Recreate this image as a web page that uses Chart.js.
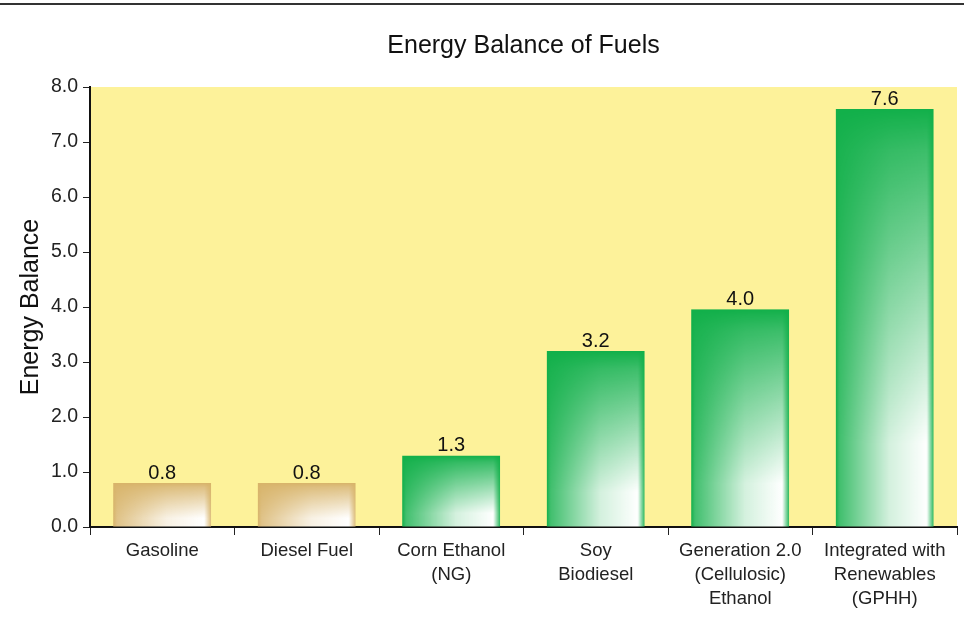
<!DOCTYPE html>
<html>
<head>
<meta charset="utf-8">
<script src="https://cdn.jsdelivr.net/npm/chart.js@4"></script>
<style>
  body { margin: 0; background: #fff; }
  #wrap { position: relative; width: 964px; height: 631px; }
  #topline { position: absolute; left: 0; right: 0; top: 3px; border-top: 2px solid #333; }
</style>
</head>
<body>
<div id="wrap">
  <div id="topline"></div>
  <canvas id="myChart1"></canvas>
</div>
<script>
// chart data
const categories = [
  "Gasoline",
  "Diesel Fuel",
  ["Corn Ethanol", "(NG)"],
  ["Soy", "Biodiesel"],
  ["Generation 2.0", "(Cellulosic)", "Ethanol"],
  ["Integrated with", "Renewables", "(GPHH)"]
];
const energyBalance = [0.8, 0.8, 1.3, 3.2, 3.96, 7.6];
const valueLabels = ["0.8", "0.8", "1.3", "3.2", "4.0", "7.6"];
const barKind = ["fossil", "fossil", "bio", "bio", "bio", "bio"];

const FONT = "'Liberation Sans', Arial, sans-serif";
const baseColors = { fossil: "#D8B46A", bio: "#12B04A" };

// shaded fill: base colour fading to white toward the bottom right
function makeShade(ctx, left, top, w, h, color) {
  w = Math.max(1, Math.round(w)); h = Math.max(1, Math.round(h));
  let c = document.createElement('canvas');
  c.width = w; c.height = h;
  let g = c.getContext('2d');
  g.fillStyle = color;
  g.fillRect(0, 0, w, h);

  let o = document.createElement('canvas');
  o.width = w; o.height = h;
  let og = o.getContext('2d');
  let gx = og.createLinearGradient(0, 0, w, 0);
  gx.addColorStop(0, 'rgba(255,255,255,0)');
  gx.addColorStop(0.04, 'rgba(255,255,255,0.2)');
  gx.addColorStop(0.55, 'rgba(255,255,255,0.82)');
  gx.addColorStop(0.93, 'rgba(255,255,255,1)');
  gx.addColorStop(1, 'rgba(255,255,255,0.1)');
  og.fillStyle = gx;
  og.fillRect(0, 0, w, h);
  og.globalCompositeOperation = 'destination-in';
  let gy = og.createLinearGradient(0, 0, 0, h);
  gy.addColorStop(0, 'rgba(0,0,0,0)');
  gy.addColorStop(0.1, 'rgba(0,0,0,0.18)');
  gy.addColorStop(0.8, 'rgba(0,0,0,1)');
  gy.addColorStop(1, 'rgba(0,0,0,1)');
  og.fillStyle = gy;
  og.fillRect(0, 0, w, h);

  g.drawImage(o, 0, 0);
  let p = ctx.createPattern(c, 'no-repeat');
  p.setTransform(new DOMMatrix().translate(left, top));
  return p;
}

const plotBg = {
  id: 'plotBg',
  beforeDraw(chart) {
    const { ctx, chartArea: a } = chart;
    ctx.save();
    ctx.fillStyle = '#FDF29A';
    ctx.fillRect(a.left, a.top, a.right - a.left, a.bottom - a.top);
    ctx.restore();
  }
};

const titleAndLabels = {
  id: 'titleAndLabels',
  afterDatasetsDraw(chart) {
    const { ctx, chartArea: a } = chart;
    ctx.save();
    ctx.fillStyle = '#111';
    ctx.textAlign = 'center';
    ctx.textBaseline = 'middle';
    ctx.font = '25px ' + FONT;
    ctx.fillText('Energy Balance of Fuels', (a.left + a.right) / 2, 46);
    ctx.font = '20px ' + FONT;
    ctx.textBaseline = 'bottom';
    chart.getDatasetMeta(0).data.forEach((bar, i) => {
      ctx.fillText(valueLabels[i], bar.x, bar.y);
    });
    ctx.restore();
  }
};

let ctx = document.getElementById('myChart1').getContext('2d');
let myChart1 = new Chart(ctx, {
  type: 'bar',
  data: {
    labels: categories,
    datasets: [{
      data: energyBalance,
      barPercentage: 0.68,
      categoryPercentage: 1,
      backgroundColor: (c) => {
        const chart = c.chart;
        const color = baseColors[barKind[c.dataIndex]];
        if (!chart.chartArea || !chart.scales.x) return color;
        const xs = chart.scales.x, ys = chart.scales.y;
        const cw = (chart.chartArea.right - chart.chartArea.left) / categories.length;
        const w = cw * 0.68;
        const cx = xs.getPixelForValue(c.dataIndex);
        const top = ys.getPixelForValue(energyBalance[c.dataIndex]);
        const bottom = ys.getPixelForValue(0);
        return makeShade(chart.ctx, cx - w / 2, top, w, bottom - top, color);
      },
      borderWidth: 0
    }]
  },
  options: {
    responsive: true,
    maintainAspectRatio: false,
    animation: false,
    layout: { padding: { top: 87, right: 7, left: 0, bottom: 0 } },
    plugins: {
      legend: { display: false },
      tooltip: { enabled: false }
    },
    scales: {
      x: {
        offset: true,
        grid: { offset: true, drawOnChartArea: false, tickLength: 8, color: '#222', tickWidth: 1 },
        border: { color: '#111', width: 2 },
        ticks: { color: '#222', font: { family: FONT, size: 18.5, lineHeight: 1.3 }, padding: 4, maxRotation: 0, autoSkip: false },
        afterFit(scale) { scale.height = 104; }
      },
      y: {
        min: 0,
        max: 8,
        grid: { drawOnChartArea: false, tickLength: 7, color: '#222' },
        border: { color: '#111', width: 2 },
        ticks: {
          stepSize: 1,
          color: '#222',
          padding: 5,
          font: { family: FONT, size: 19.5 },
          callback: (v) => v.toFixed(1)
        },
        title: { display: true, text: 'Energy Balance', color: '#111', font: { family: FONT, size: 25 }, padding: { top: 16, bottom: 0 } },
        afterFit(scale) { scale.width = 90; }
      }
    }
  },
  plugins: [plotBg, titleAndLabels]
});
</script>
</body>
</html>
